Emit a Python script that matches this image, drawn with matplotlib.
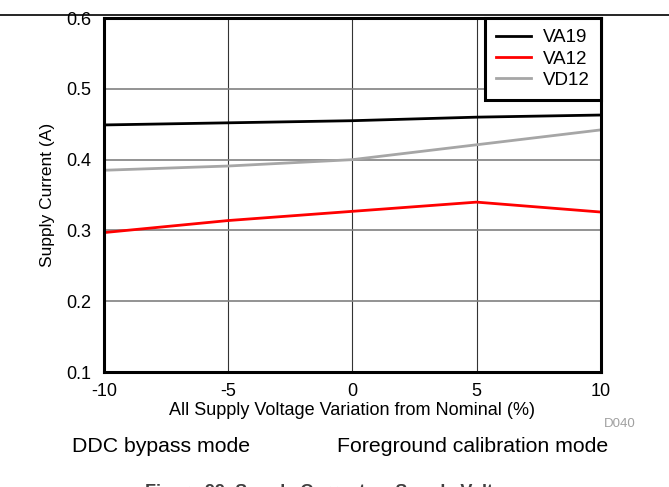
import matplotlib
matplotlib.use("Agg")
import matplotlib.pyplot as plt

plt.rcParams["font.family"] = ["Liberation Sans", "DejaVu Sans"]
plt.rcParams["axes.unicode_minus"] = False

# dados
variacao = [-10, -5, 0, 5, 10]
va19 = [0.449, 0.452, 0.455, 0.460, 0.463]
va12 = [0.297, 0.314, 0.327, 0.340, 0.326]
vd12 = [0.385, 0.391, 0.400, 0.421, 0.442]

fig = plt.figure(figsize=(6.69, 4.87), dpi=100)
ax = fig.add_axes([0.1555, 0.236, 0.7425, 0.727])

ax.plot(variacao, va19, color="black", lw=2, label="VA19")
ax.plot(variacao, va12, color="red", lw=2, label="VA12")
ax.plot(variacao, vd12, color="#a6a6a6", lw=2, label="VD12")

ax.set_xlim(-10, 10)
ax.set_ylim(0.1, 0.6)
ax.set_xticks([-10, -5, 0, 5, 10])
ax.set_yticks([0.1, 0.2, 0.3, 0.4, 0.5, 0.6])
ax.set_yticklabels(["0.1", "0.2", "0.3", "0.4", "0.5", "0.6"])
ax.xaxis.grid(True, color="#333333", lw=0.8)
ax.yaxis.grid(True, color="#808080", lw=1.2)
ax.set_axisbelow(True)
ax.tick_params(axis="x", length=0, labelsize=13, pad=8)
ax.tick_params(axis="y", length=0, labelsize=13, pad=9)
for s in ax.spines.values():
    s.set_linewidth(2.2)

ax.set_xlabel("All Supply Voltage Variation from Nominal (%)", fontsize=13, labelpad=1)
ax.set_ylabel("Supply Current (A)", fontsize=12.5, labelpad=8)

leg = ax.legend(loc="upper right", fontsize=13.5, frameon=True, fancybox=False,
                borderaxespad=0, handlelength=1.9, labelspacing=0.22,
                borderpad=0.6, handletextpad=0.6)
leg.get_frame().set_edgecolor("black")
leg.get_frame().set_linewidth(2.2)
leg.get_frame().set_alpha(1)

fig.text(620 / 669, 1 - 424 / 487, "D040", color="#a0a0a0", fontsize=9.5,
         ha="center", va="center")
fig.text(72 / 669, 1 - 446 / 487, "DDC bypass mode", fontsize=15.3,
         ha="left", va="center")
fig.text(337 / 669, 1 - 446 / 487, "Foreground calibration mode", fontsize=15.3,
         ha="left", va="center")
fig.text(0.5, 1 - 492 / 487, "Figure 99. Supply Current vs Supply Voltage",
         fontsize=13, fontweight="bold", color="#404040", ha="center", va="center")

fig.add_artist(plt.Line2D([0, 1], [1 - 15 / 487, 1 - 15 / 487], color="black", lw=1.2))

fig.savefig("out.png", dpi=100)
